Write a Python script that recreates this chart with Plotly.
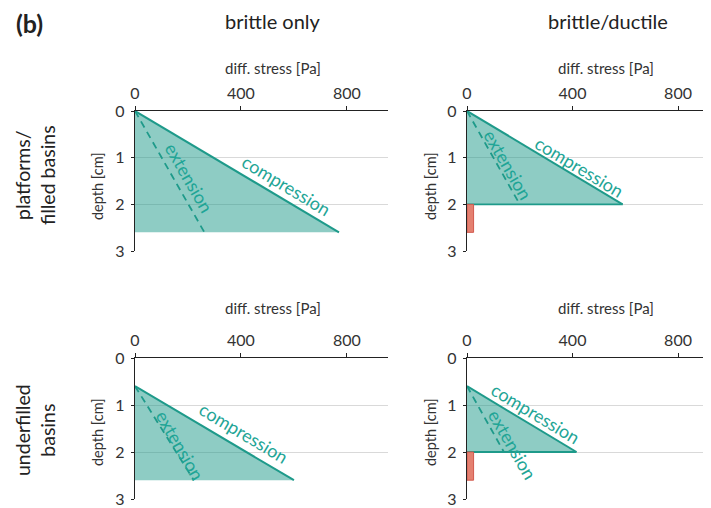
import plotly.graph_objects as go

# ---------------- data ----------------
stress_ticks = [0, 400, 800]
depth_ticks = [0, 1, 2, 3]
col_titles = ["brittle only", "brittle/ductile"]
row_titles = ["platforms/<br>filled basins", "underfilled<br>basins"]
panel_label = "(b)"
x_title = "diff. stress [Pa]"
y_title = "depth [cm]"

# panels: top-left, top-right, bottom-left, bottom-right
brittle_top = [0.0, 0.0, 0.6, 0.6]          # depth [cm] where brittle strength starts
brittle_base = [2.6, 2.0, 2.6, 2.0]         # depth [cm] of brittle layer base
compression_at_base = [770, 590, 600, 415]  # diff. stress [Pa] at base (compression)
extension_at_base = [262, 200, 222, 140]    # diff. stress [Pa] at base (extension)
ductile_top = [None, 2.0, None, 2.0]
ductile_base = [None, 2.6, None, 2.6]
ductile_stress = [None, 25, None, 25]

# ---------------- styling / layout ----------------
OX, OY = 8, 8            # page body margin offset
W, H = 711 - OX, 508 - OY
TEAL = "rgb(30,154,138)"
TEAL_TXT = "rgb(31,165,150)"
FILL = "rgba(30,154,138,0.5)"
RED_FILL = "rgb(228,128,112)"
RED_LINE = "rgb(210,90,78)"
FONT = "Lato"

def px_x(p):
    return (p - OX) / W

def px_y(p):
    return 1 - (p - OY) / H

x_domains = [[px_x(135), px_x(388)], [px_x(467), 1.0]]
x_ranges = [[0, 955], [0, 925]]
y_domains = [[px_y(251), px_y(111)], [px_y(499), px_y(358)]]

# label placement (data coordinates) per panel
comp_lbl = [(570, 1.58), (428, 1.19), (411, 1.60), (258, 1.17)]
ext_lbl = [(206, 1.43), (157, 1.15), (170, 1.85), (174, 1.85)]

fig = go.Figure()
layout = dict(width=W, height=H, margin=dict(l=0, r=0, t=0, b=0),
              paper_bgcolor="white", plot_bgcolor="white", showlegend=False,
              font=dict(family=FONT, color="#333333"))
annotations = []

def note(**kw):
    kw.setdefault("xanchor", "center")
    kw.setdefault("yanchor", "middle")
    kw.setdefault("showarrow", False)
    annotations.append(kw)

for i in range(4):
    r, c = divmod(i, 2)
    n = i + 1
    xa = "x" if n == 1 else f"x{n}"
    ya = "y" if n == 1 else f"y{n}"
    xk = "xaxis" if n == 1 else f"xaxis{n}"
    yk = "yaxis" if n == 1 else f"yaxis{n}"
    top, base = brittle_top[i], brittle_base[i]
    comp, ext = compression_at_base[i], extension_at_base[i]

    # shaded brittle strength envelope
    fig.add_trace(go.Scatter(x=[0, comp, 0, 0], y=[top, base, base, top], mode="lines",
                             fill="toself", fillcolor=FILL, line=dict(width=0),
                             xaxis=xa, yaxis=ya, hoverinfo="skip"))
    # compression
    fig.add_trace(go.Scatter(x=[0, comp], y=[top, base], mode="lines",
                             line=dict(color=TEAL, width=2), xaxis=xa, yaxis=ya))
    # extension
    fig.add_trace(go.Scatter(x=[0, ext], y=[top, base], mode="lines",
                             line=dict(color=TEAL, width=1.8, dash="7px,5px"),
                             xaxis=xa, yaxis=ya))
    if ductile_stress[i] is not None:
        fig.add_trace(go.Scatter(x=[0, comp], y=[base, base], mode="lines",
                                 line=dict(color=TEAL, width=1.8), xaxis=xa, yaxis=ya))
        d0, d1, s = ductile_top[i], ductile_base[i], ductile_stress[i]
        fig.add_trace(go.Scatter(x=[0, s, s, 0, 0], y=[d0, d0, d1, d1, d0], mode="lines",
                                 fill="toself", fillcolor=RED_FILL,
                                 line=dict(color=RED_LINE, width=1),
                                 xaxis=xa, yaxis=ya))

    layout[xk] = dict(domain=x_domains[c], range=x_ranges[c], side="top", anchor=ya,
                      tickvals=stress_ticks, ticks="outside", ticklen=4, tickwidth=1,
                      tickcolor="#222", showline=True, linecolor="#222", linewidth=1.3,
                      showgrid=False, zeroline=False, automargin=False,
                      tickfont=dict(size=16, color="#333"), ticklabelstandoff=0)
    layout[yk] = dict(domain=y_domains[r], range=[3, 0], anchor=xa,
                      tickvals=depth_ticks, ticks="outside", ticklen=3, tickwidth=1,
                      tickcolor="#222", showline=True, linecolor="#222", linewidth=1.3,
                      showgrid=True, gridcolor="#d9d9d9", gridwidth=1, zeroline=False,
                      automargin=False, tickfont=dict(size=16, color="#333"),
                      ticklabelstandoff=3)
    # overlay axes to draw the inner half of the crossing ticks
    m = n + 4
    layout[f"xaxis{m}"] = dict(overlaying=xa, anchor=ya, side="top",
                               range=x_ranges[c], tickvals=stress_ticks,
                               ticks="inside", ticklen=4, tickwidth=1, tickcolor="#222",
                               showticklabels=False, showline=False, showgrid=False,
                               zeroline=False, automargin=False)
    layout[f"yaxis{m}"] = dict(overlaying=ya, anchor=xa, range=[3, 0],
                               tickvals=depth_ticks, ticks="inside", ticklen=5,
                               tickwidth=1, tickcolor="#222", showticklabels=False,
                               showline=False, showgrid=False, zeroline=False,
                               automargin=False)

    # in-plot labels
    note(x=comp_lbl[i][0], y=comp_lbl[i][1], xref=xa, yref=ya,
         text="compression", textangle=31,
         font=dict(size=18, color=TEAL_TXT, family=FONT))
    note(x=ext_lbl[i][0], y=ext_lbl[i][1], xref=xa, yref=ya,
         text="extension", textangle=60,
         font=dict(size=18, color=TEAL_TXT, family=FONT))
    # axis titles
    xc = (273, 606)[c]
    yc = (68, 308)[r]
    note(x=px_x(xc), y=px_y(yc), xref="paper", yref="paper", text=x_title,
         font=dict(size=15, color="#333", family=FONT))
    yc2 = (186, 432)[r]
    xc2 = (97, 430)[c]
    note(x=px_x(xc2), y=px_y(yc2), xref="paper", yref="paper", text=y_title,
         textangle=-90, font=dict(size=14.5, color="#333", family=FONT))

# column and row titles
for c, t in enumerate(col_titles):
    note(x=px_x((273, 608)[c]), y=px_y(21), xref="paper", yref="paper", text=t,
         font=dict(size=20, color="#222", family=FONT))
for r, t in enumerate(row_titles):
    note(x=px_x(35), y=px_y((175, 430)[r]), xref="paper", yref="paper", text=t,
         textangle=-90, font=dict(size=19.5, color="#222", family=FONT))
note(x=px_x(29), y=px_y(23), xref="paper", yref="paper",
     text="<b>" + panel_label + "</b>", font=dict(size=25, color="#222", family=FONT))

layout["annotations"] = annotations
fig.update_layout(**layout)
fig.write_html("out.html")
